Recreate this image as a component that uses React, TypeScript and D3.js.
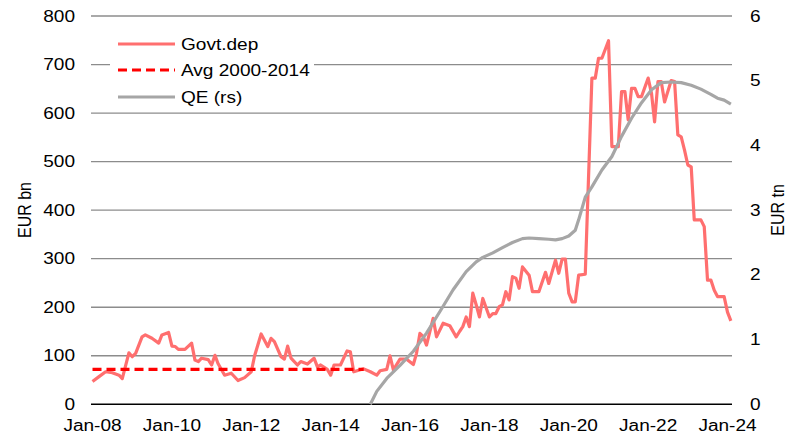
import React from "react";
import * as d3 from "d3";

const govtDates = ["2008-01","2008-03","2008-05","2008-07","2008-09","2008-10","2008-12","2009-01","2009-02","2009-04","2009-05","2009-07","2009-09","2009-10","2009-12","2010-01","2010-02","2010-03","2010-05","2010-07","2010-08","2010-09","2010-10","2010-12","2011-01","2011-02","2011-03","2011-05","2011-07","2011-09","2011-11","2012-01","2012-02","2012-04","2012-06","2012-07","2012-08","2012-10","2012-11","2012-12","2013-01","2013-03","2013-04","2013-06","2013-08","2013-09","2013-10","2013-12","2014-01","2014-02","2014-04","2014-06","2014-07","2014-08","2014-10","2014-11","2015-01","2015-03","2015-04","2015-06","2015-07","2015-08","2015-10","2015-11","2015-12","2016-02","2016-03","2016-04","2016-05","2016-06","2016-08","2016-09","2016-11","2017-01","2017-03","2017-04","2017-05","2017-06","2017-07","2017-08","2017-09","2017-10","2017-11","2018-01","2018-02","2018-03","2018-04","2018-05","2018-06","2018-07","2018-08","2018-09","2018-10","2018-11","2019-01","2019-02","2019-04","2019-06","2019-07","2019-09","2019-10","2019-11","2019-12","2020-01","2020-02","2020-03","2020-04","2020-06","2020-08","2020-09","2020-10","2020-11","2021-01","2021-02","2021-04","2021-05","2021-06","2021-07","2021-08","2021-09","2021-10","2021-11","2022-01","2022-02","2022-03","2022-04","2022-05","2022-06","2022-08","2022-09","2022-10","2022-11","2022-12","2023-01","2023-02","2023-03","2023-04","2023-05","2023-06","2023-07","2023-08","2023-09","2023-10","2023-11","2023-12","2024-01","2024-02"];
const govtValues = [47,57,67,65,60,53,106,98,105,139,143,136,126,143,148,120,119,113,113,126,91,88,95,92,81,101,84,60,64,49,55,67,100,145,119,136,129,98,93,120,95,81,88,83,95,77,81,72,60,81,81,110,108,67,71,73,67,60,69,72,100,71,93,93,93,82,105,146,140,122,177,139,167,162,139,150,160,180,160,229,205,180,218,180,187,187,201,205,232,215,263,260,239,283,266,232,232,272,249,297,270,299,299,229,211,211,266,268,672,672,713,713,749,531,531,644,644,586,651,651,634,634,672,640,582,665,665,623,667,665,555,551,524,493,489,380,380,380,366,256,256,235,222,222,222,190,172,168];

const qeDates = ["2015-01","2015-03","2015-06","2015-10","2016-02","2016-06","2016-10","2017-02","2017-06","2017-09","2017-11","2018-02","2018-05","2018-08","2018-11","2019-01","2019-04","2019-07","2019-09","2019-11","2020-01","2020-03","2020-04","2020-06","2020-08","2020-11","2021-02","2021-05","2021-08","2021-11","2022-02","2022-05","2022-08","2022-11","2023-02","2023-05","2023-08","2023-10","2023-12","2024-02"];
const qeValues = [0.0,0.2,0.4,0.6,0.82,1.1,1.43,1.77,2.05,2.2,2.27,2.34,2.42,2.5,2.56,2.57,2.56,2.55,2.54,2.56,2.6,2.69,2.85,3.2,3.36,3.62,3.83,4.14,4.42,4.66,4.86,4.97,4.98,4.97,4.93,4.87,4.79,4.73,4.7,4.64];

const avgDates = ["2008-01","2014-11"];
const avgValues = [72,72];

const leftTicks = [0,100,200,300,400,500,600,700,800];
const rightTicks = [0,1,2,3,4,5,6];
const xTickLabels = ["Jan-08","Jan-10","Jan-12","Jan-14","Jan-16","Jan-18","Jan-20","Jan-22","Jan-24"];
const xTickDates = ["2008-01","2010-01","2012-01","2014-01","2016-01","2018-01","2020-01","2022-01","2024-01"];
const legendLabels = ["Govt.dep","Avg 2000-2014","QE (rs)"];

const parse = d3.timeParse("%Y-%m");
const FONT = "'Liberation Sans', Arial, sans-serif";
const FS = 16;
const SX = 1.19;

export default function App() {
  const W = 794, H = 435;
  const plotL = 91, plotR = 732;
  const x = d3.scaleTime().domain([parse("2008-01")!, parse("2024-01")!]).range([92.5, 727.5]);
  const yL = d3.scaleLinear().domain([0, 800]).range([404.3, 16]);
  const yR = d3.scaleLinear().domain([0, 6]).range([404.3, 16]);

  const govt = govtDates.map((d, i) => ({ d: parse(d)!, v: govtValues[i] }));
  const qe = qeDates.map((d, i) => ({ d: parse(d)!, v: qeValues[i] }));
  const avg = avgDates.map((d, i) => ({ d: parse(d)!, v: avgValues[i] }));

  const lineL = d3.line<{ d: Date; v: number }>().x(p => x(p.d)).y(p => yL(p.v));
  const lineR = d3.line<{ d: Date; v: number }>().x(p => x(p.d)).y(p => yR(p.v));

  const legendColors = ["#ff6f6f", "#ff0000", "#a6a6a6"];
  const legendDash = [undefined, "9,5", undefined];
  const legendY = [44, 70, 97];

  return (
    <svg width={W} height={H} style={{ position: "absolute", left: 0, top: 0, background: "#fff" }} fontFamily={FONT}>
      {leftTicks.filter(t => t > 0).map(t => (
        <line key={t} x1={plotL} x2={plotR} y1={yL(t)} y2={yL(t)} stroke="#8c8c8c" strokeWidth={1.3} />
      ))}
      <line x1={plotL} x2={plotR} y1={yL(0)} y2={yL(0)} stroke="#000" strokeWidth={1.6} />
      {leftTicks.map(t => (
        <text key={t} transform={`translate(75,${yL(t) + 5.5}) scale(${SX},1)`} textAnchor="end" fontSize={FS} fill="#000">{t}</text>
      ))}
      {rightTicks.map(t => (
        <text key={t} transform={`translate(750,${yR(t) + 5.5}) scale(${SX},1)`} textAnchor="start" fontSize={FS} fill="#000">{t}</text>
      ))}
      {xTickDates.map((d, i) => (
        <text key={d} transform={`translate(${x(parse(d)!)},${431}) scale(${SX},1)`} textAnchor="middle" fontSize={FS} fill="#000">{xTickLabels[i]}</text>
      ))}
      <text transform={`translate(31,210) scale(${SX},1) rotate(-90)`} textAnchor="middle" fontSize={FS} fill="#000">EUR bn</text>
      <text transform={`translate(784,210) scale(${SX},1) rotate(-90)`} textAnchor="middle" fontSize={FS} fill="#000">EUR tn</text>

      <path d={lineL(govt) || ""} fill="none" stroke="#ff6f6f" strokeWidth={3.2} strokeLinejoin="round" />
      <path d={lineL(avg) || ""} fill="none" stroke="#ff0000" strokeWidth={3.2} strokeDasharray="9,5" />
      <path d={lineR(qe) || ""} fill="none" stroke="#a6a6a6" strokeWidth={3.2} strokeLinejoin="round" />

      <rect x={110} y={27} width={204} height={81} fill="#fff" />
      {legendLabels.map((l, i) => (
        <g key={l}>
          <line x1={118} x2={175} y1={legendY[i]} y2={legendY[i]} stroke={legendColors[i]} strokeWidth={3.2} strokeDasharray={legendDash[i]} />
          <text transform={`translate(181,${legendY[i] + 5.5}) scale(${SX},1)`} fontSize={FS} fill="#000">{l}</text>
        </g>
      ))}
    </svg>
  );
}
